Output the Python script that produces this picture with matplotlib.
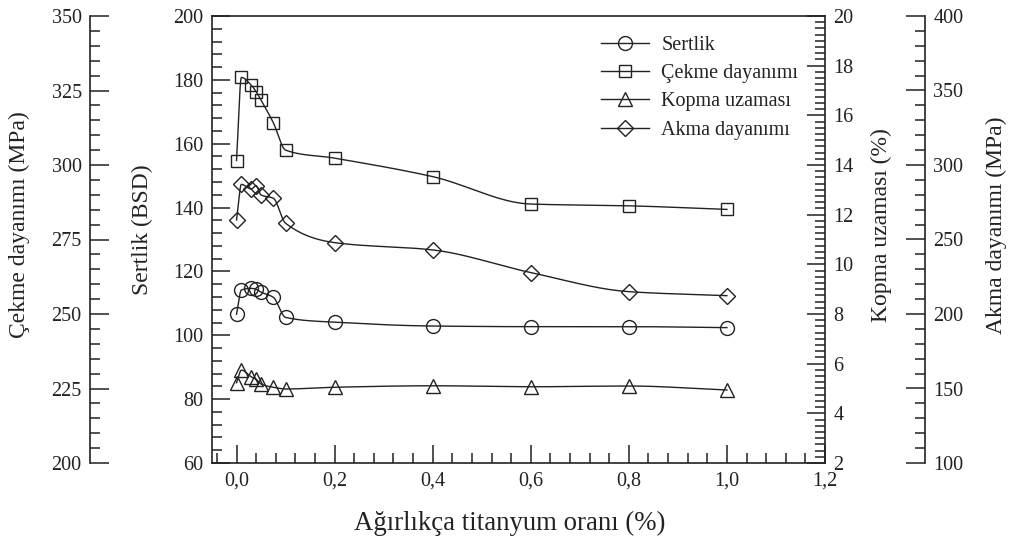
import numpy as np
import matplotlib
matplotlib.use('Agg')
import matplotlib.pyplot as plt
from matplotlib.ticker import MultipleLocator, FixedLocator, FixedFormatter

# ---- data ----
titanium = [0.0, 0.01, 0.03, 0.04, 0.05, 0.075, 0.1, 0.2, 0.4, 0.6, 0.8, 1.0]
sertlik = [106.6, 114.2, 114.7, 114.4, 113.5, 111.9, 105.6, 104.1, 102.9, 102.7, 102.7, 102.4]
cekme = [301.5, 329.4, 326.8, 324.6, 321.8, 314.2, 305.0, 302.3, 296.1, 286.9, 286.3, 285.1]
kopma = [5.23, 5.74, 5.47, 5.37, 5.18, 5.05, 4.98, 5.05, 5.11, 5.07, 5.10, 4.94]
akma = [263.1, 287.0, 283.9, 286.1, 279.9, 277.7, 260.9, 247.9, 243.0, 227.8, 215.0, 212.3]

x_ticks = [0.0, 0.2, 0.4, 0.6, 0.8, 1.0, 1.2]
x_tick_labels = ['0,0', '0,2', '0,4', '0,6', '0,8', '1,0', '1,2']
series_labels = ['Sertlik', 'Çekme dayanımı', 'Kopma uzaması', 'Akma dayanımı']
x_label = 'Ağırlıkça titanyum oranı (%)'
y_labels = ['Sertlik (BSD)', 'Çekme dayanımı (MPa)', 'Kopma uzaması (%)', 'Akma dayanımı (MPa)']

plt.rcParams['font.family'] = ['Liberation Serif', 'DejaVu Serif']
FS = 14.5
FS_Y = 17.0
FS_X = 19.3
INK = '#222222'


def pchip_curve(x, y, n=40):
    """Monotone cubic (PCHIP) path through the data points for a smooth line."""
    x = np.asarray(x, float)
    y = np.asarray(y, float)
    h = np.diff(x)
    d = np.diff(y) / h
    m = np.zeros_like(y)
    for i in range(1, len(y) - 1):
        if d[i - 1] * d[i] > 0:
            w1 = 2 * h[i] + h[i - 1]
            w2 = h[i] + 2 * h[i - 1]
            m[i] = (w1 + w2) / (w1 / d[i - 1] + w2 / d[i])
    m[0] = d[0]
    m[-1] = d[-1]
    xs, ys = [], []
    t = np.linspace(0, 1, n)
    h00 = 2 * t**3 - 3 * t**2 + 1
    h10 = t**3 - 2 * t**2 + t
    h01 = -2 * t**3 + 3 * t**2
    h11 = t**3 - t**2
    for i in range(len(h)):
        xs.append(x[i] + t * h[i])
        ys.append(h00 * y[i] + h10 * h[i] * m[i] + h01 * y[i + 1] + h11 * h[i] * m[i + 1])
    return np.concatenate(xs), np.concatenate(ys)


fig = plt.figure(figsize=(10.11, 5.45), dpi=100)
W, H = 1011.0, 545.0
L, R, T, B = 212, 825, 16, 463
ax = fig.add_axes([L / W, 1 - B / H, (R - L) / W, (B - T) / H])
ax_k = ax.twinx()
ax_c = ax.twinx()
ax_a = ax.twinx()

axw = R - L
axh = B - T

# main axis (Sertlik)
ax.set_xlim(-0.05, 1.2)
ax.set_ylim(60, 200)
ax.xaxis.set_major_locator(FixedLocator(x_ticks))
ax.xaxis.set_major_formatter(FixedFormatter(x_tick_labels))
ax.xaxis.set_minor_locator(MultipleLocator(0.04))
ax.yaxis.set_major_locator(MultipleLocator(20))
ax.yaxis.set_minor_locator(MultipleLocator(4))
ax.tick_params(which='both', direction='in', top=False, right=False, colors=INK,
               labelsize=FS, width=1.1)
ax.tick_params(which='major', length=13, pad=6)
ax.tick_params(which='minor', length=7)
ax.set_xlabel(x_label, fontsize=FS_X, color=INK)
ax.xaxis.set_label_coords((510 - L) / axw, (B - 511) / axh)
ax.set_ylabel(y_labels[0], fontsize=FS_Y, color=INK)
ax.yaxis.set_label_coords((153 - L) / axw, (B - 230) / axh)

# Kopma (right inner)
ax_k.set_ylim(2, 20)
ax_k.yaxis.set_major_locator(MultipleLocator(2))
ax_k.yaxis.set_minor_locator(MultipleLocator(0.25))
ax_k.tick_params(which='both', direction='in', colors=INK, labelsize=FS, width=1.1)
ax_k.tick_params(which='major', length=13, pad=6)
ax_k.tick_params(which='minor', length=7)
ax_k.set_ylabel(y_labels[2], fontsize=FS_Y, color=INK)
ax_k.yaxis.set_label_coords((871 - L) / axw, (B - 225) / axh)

# Çekme (left outer)
ax_c.set_ylim(200, 350)
ax_c.yaxis.tick_left()
ax_c.yaxis.set_label_position('left')
ax_c.spines['left'].set_position(('axes', (90 - L) / axw))
ax_c.yaxis.set_major_locator(MultipleLocator(25))
ax_c.yaxis.set_minor_locator(MultipleLocator(5))
ax_c.tick_params(which='both', direction='in', colors=INK, labelsize=FS, width=1.1)
ax_c.tick_params(which='major', length=14, pad=6)
ax_c.tick_params(which='minor', length=7)
ax_c.set_ylabel(y_labels[1], fontsize=FS_Y, color=INK)
ax_c.yaxis.set_label_coords((30 - L) / axw, (B - 225) / axh)

# Akma (right outer)
ax_a.set_ylim(100, 400)
ax_a.spines['right'].set_position(('axes', (925 - L) / axw))
ax_a.yaxis.set_major_locator(MultipleLocator(50))
ax_a.yaxis.set_minor_locator(MultipleLocator(10))
ax_a.tick_params(which='both', direction='in', colors=INK, labelsize=FS, width=1.1)
ax_a.tick_params(which='major', length=14, pad=6)
ax_a.tick_params(which='minor', length=7)
ax_a.set_ylabel(y_labels[3], fontsize=FS_Y, color=INK)
ax_a.yaxis.set_label_coords((986 - L) / axw, (B - 225) / axh)

# spines
for a in (ax, ax_k, ax_c, ax_a):
    for s in a.spines.values():
        s.set_visible(False)
        s.set_linewidth(1.2)
        s.set_color(INK)
for s in ('left', 'right', 'top', 'bottom'):
    ax.spines[s].set_visible(True)
ax_c.spines['left'].set_visible(True)
ax_a.spines['right'].set_visible(True)

# series
specs = [
    (ax, sertlik, 'o', 10),
    (ax_c, cekme, 's', 9),
    (ax_k, kopma, '^', 10),
    (ax_a, akma, 'D', 8),
]
handles = []
for (a, vals, mk, ms), lab in zip(specs, series_labels):
    xs, ys = pchip_curve(titanium, vals)
    a.plot(xs, ys, color=INK, lw=1.0)
    a.plot(titanium, vals, linestyle='none', marker=mk, ms=ms, mfc='none',
           mec=INK, mew=1.0)
    h, = ax_a.plot([], [], color=INK, lw=1.0, marker=mk, ms=ms, mfc='none',
                   mec=INK, mew=1.0)
    handles.append(h)

leg = ax_a.legend(handles, series_labels, loc='upper left',
                  bbox_to_anchor=((601 - L) / axw, (B - 36) / axh),
                  frameon=False, fontsize=FS, borderpad=0, borderaxespad=0,
                  handlelength=2.4, handletextpad=0.6, labelspacing=0.45)
for t in leg.get_texts():
    t.set_color(INK)

fig.savefig('out.png', dpi=100)
